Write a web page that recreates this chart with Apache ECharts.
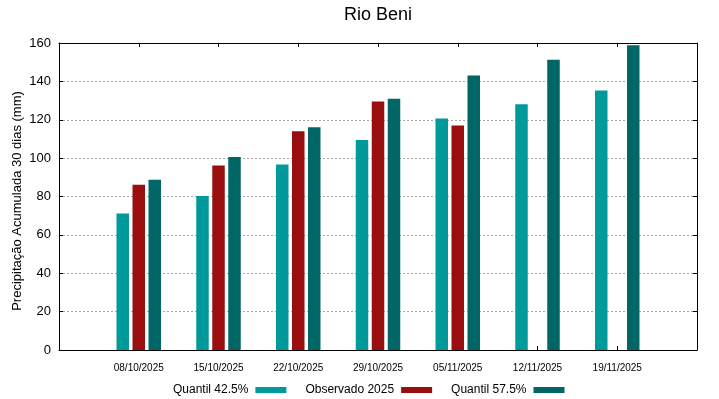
<!DOCTYPE html>
<html>
<head>
<meta charset="utf-8">
<script src="https://cdn.jsdelivr.net/npm/echarts@6/dist/echarts.min.js"></script>
<style>html,body{margin:0;padding:0;background:#fff}#c{width:719px;height:399px}</style>
</head>
<body>
<div id="c"></div>
<script>
const dates = ['08/10/2025','15/10/2025','22/10/2025','29/10/2025','05/11/2025','12/11/2025','19/11/2025'];
const q425 = [71.1, 80.3, 96.7, 109.5, 120.6, 128.1, 135.2];
const obs2025 = [86.1, 96.1, 114.0, 129.5, 117.0, null, null];
const q575 = [88.7, 100.6, 116.1, 131.0, 143.0, 151.3, 158.8];
const yTicks = [0, 20, 40, 60, 80, 100, 120, 140, 160];

const FONT = 'Liberation Sans, Arial, sans-serif';
const toPairs = arr => arr.map((v, i) => [i, v]);

const chart = echarts.init(document.getElementById('c'), null, {renderer: 'canvas'});
const barCommon = {type: 'bar', barWidth: 12.5, barGap: '28%'};
const yBase = {
  type: 'value', min: yTicks[0], max: yTicks[yTicks.length - 1], interval: 20,
  axisLine: {show: true, onZero: false, lineStyle: {color: '#000', width: 1}},
  axisTick: {show: true, inside: true, length: 4, lineStyle: {color: '#000'}}
};
const xBase = {
  type: 'value', min: -1, max: 7, interval: 1,
  axisLine: {show: true, onZero: false, lineStyle: {color: '#000', width: 1}},
  axisTick: {show: true, inside: true, length: 4, lineStyle: {color: '#000'}},
  splitLine: {show: false}
};
chart.setOption({
  animation: false,
  title: {
    text: 'Rio Beni', left: 373, top: 1, textAlign: 'center',
    textStyle: {fontFamily: FONT, fontSize: 18, fontWeight: 'normal', color: '#000'}
  },
  grid: {left: 59, right: 22, top: 43, bottom: 49, containLabel: false, outerBoundsMode: 'none'},
  legend: {
    bottom: 0, left: 173, align: 'right', padding: [5, 5, 3, 0],
    itemWidth: 31, itemHeight: 6, itemGap: 19, icon: 'rect',
    textStyle: {fontFamily: FONT, fontSize: 12, color: '#000', padding: [0, 2, 0, 0]},
    data: ['Quantil 42.5%', 'Observado 2025', 'Quantil 57.5%']
  },
  xAxis: [Object.assign({}, xBase, {
    position: 'bottom',
    axisLabel: {
      fontFamily: FONT, fontSize: 10, color: '#000', margin: 13,
      formatter: v => (v >= 0 && v < dates.length) ? dates[v] : ''
    }
  }), Object.assign({}, xBase, {
    position: 'top',
    axisLabel: {show: false}
  })],
  yAxis: [Object.assign({}, yBase, {
    position: 'left',
    name: 'Precipitação Acumulada 30 dias (mm)', nameLocation: 'middle', nameGap: 35,
    nameMoveOverlap: false,
    nameTextStyle: {fontFamily: FONT, fontSize: 13, color: '#000', padding: [0, 9, 0, 0]},
    axisLabel: {fontFamily: FONT, fontSize: 13, color: '#000', margin: 8},
    splitLine: {show: true, lineStyle: {color: '#a8a8a8', type: [2, 2], width: 1}}
  }), Object.assign({}, yBase, {
    position: 'right',
    axisLabel: {show: false},
    splitLine: {show: false}
  })],
  series: [
    Object.assign({name: 'Quantil 42.5%', data: toPairs(q425), itemStyle: {color: '#009a9a'}}, barCommon),
    Object.assign({name: 'Observado 2025', data: toPairs(obs2025), itemStyle: {color: '#990f0f'}}, barCommon),
    Object.assign({name: 'Quantil 57.5%', data: toPairs(q575), itemStyle: {color: '#006666'}}, barCommon)
  ]
});
</script>
</body>
</html>
